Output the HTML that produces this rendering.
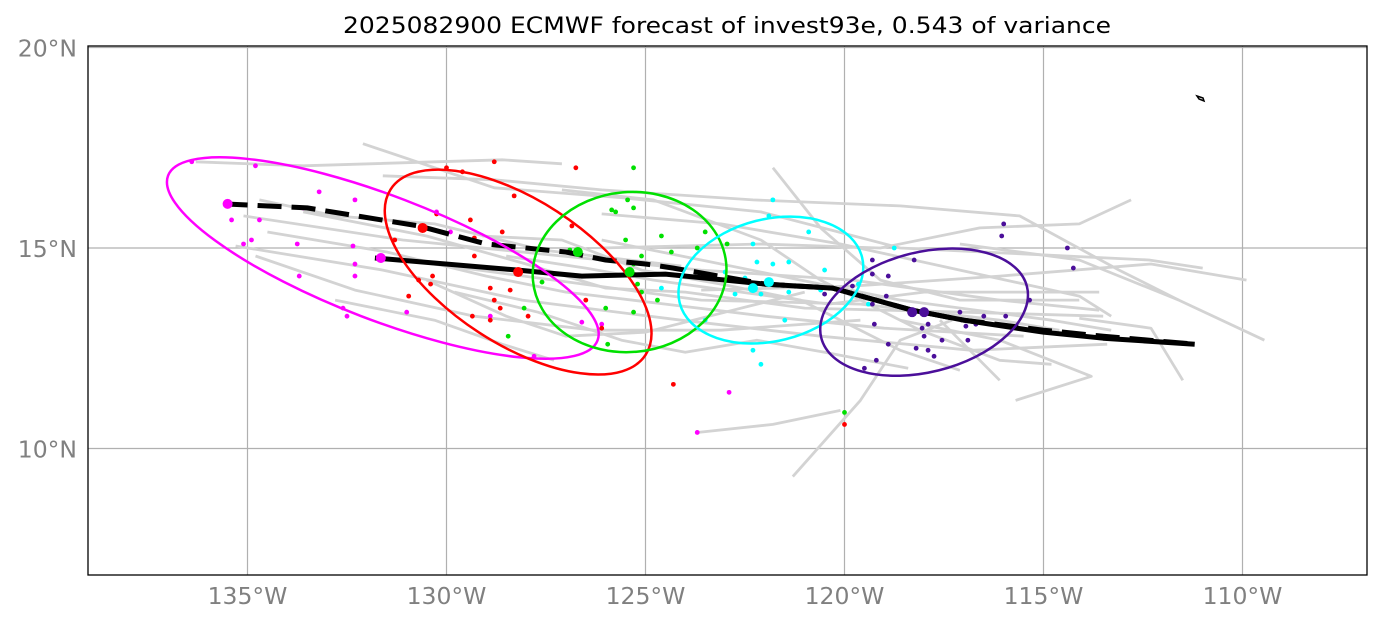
<!DOCTYPE html>
<html><head><meta charset="utf-8"><style>
body{margin:0;background:#fff;}
svg{display:block;font-family:"DejaVu Sans","Liberation Sans",sans-serif;}
</style></head><body>
<svg id="chart" width="1382" height="624" viewBox="0 0 1382 624">
<text x="727" y="33" text-anchor="middle" font-size="22" textLength="768" lengthAdjust="spacingAndGlyphs" fill="#000">2025082900 ECMWF forecast of invest93e, 0.543 of variance</text>
<defs><clipPath id="clip"><rect x="88" y="46" width="1279" height="529"/></clipPath></defs>
<g id="grid"></g>
<g id="tracks" clip-path="url(#clip)"></g>
<g id="marks" clip-path="url(#clip)"></g>
<rect x="88" y="46" width="1279" height="529" fill="none" stroke="#000" stroke-width="1.3"/>
<g id="ticks"></g>
</svg>
<script>
const lonTicks=[-135,-130,-125,-120,-115,-110];
const latTicks=[10,15,20];
const grayTracks=[
[[-132.1,17.6],[-128.8,16.5],[-125.55,16.25],[-122.1,15.9],[-118.6,15.0],[-112.35,14.7],[-111.0,14.5]],
[[-136.3,17.15],[-133.6,17.05],[-128.6,17.2],[-127.1,17.1]],
[[-135.1,15.8],[-131.1,15.2],[-127.1,14.8],[-123.6,14.45],[-119.8,14.2],[-116.1,13.7],[-113.6,13.45]],
[[-135.3,15.05],[-131.6,14.45],[-128.1,13.7],[-124.1,13.2],[-120.6,12.8],[-116.8,12.45],[-113.4,12.6]],
[[-131.6,16.8],[-128.8,16.7],[-126.1,16.45],[-122.3,16.2],[-118.6,16.05],[-115.6,15.8],[-113.1,14.45],[-111.6,13.7]],
[[-112.8,16.2],[-114.1,15.6],[-116.6,15.5],[-119.1,15.0],[-122.1,15.1],[-126.1,15.0]],
[[-109.45,12.7],[-111.6,13.7],[-114.1,14.7],[-117.1,15.1]],
[[-109.9,14.2],[-112.3,14.6],[-116.1,14.3],[-119.8,14.05],[-123.6,13.95]],
[[-121.3,9.3],[-119.6,11.2],[-118.6,12.7],[-117.3,13.2]],
[[-115.7,11.2],[-113.8,11.8],[-116.1,12.7],[-118.6,13.2]],
[[-111.5,11.7],[-112.3,13.0],[-114.1,13.25]],
[[-123.7,10.4],[-121.8,10.6],[-120.1,10.95]],
[[-134.7,16.2],[-132.8,15.8],[-130.3,15.6],[-127.6,14.95],[-124.1,14.55]],
[[-134.8,14.8],[-132.3,13.95],[-129.3,13.3],[-126.3,12.95],[-123.1,12.95],[-119.6,13.2]],
[[-132.8,13.7],[-130.3,13.2],[-128.6,12.6],[-127.3,12.2]],
[[-126.1,15.2],[-123.6,14.7],[-121.6,14.3],[-118.6,13.7],[-114.8,13.2],[-113.3,12.95]],
[[-121.8,17.0],[-120.6,15.5],[-119.1,14.2],[-117.1,13.7],[-114.1,13.7]],
[[-127.1,16.45],[-124.8,16.2],[-122.1,15.2],[-120.6,14.2],[-118.1,12.95],[-116.1,12.2],[-114.8,12.1]],
[[-131.1,14.7],[-127.3,14.2],[-123.6,13.7],[-119.6,13.6],[-116.1,13.2],[-114.6,12.95]],
[[-126.1,15.85],[-123.1,15.6],[-120.1,15.1],[-117.1,14.45],[-114.1,13.8],[-113.3,13.3]],
[[-116.1,11.7],[-116.6,12.2],[-117.6,13.2]],
[[-129.1,15.3],[-127.1,15.2],[-125.1,14.45],[-123.1,14.1],[-121.1,13.7],[-118.6,12.45],[-117.1,11.95]],
[[-133.6,15.9],[-130.5,15.3],[-128,14.6],[-126,14.0],[-124,13.9],[-121,13.5],[-117,13.4],[-113.5,13.3]],
[[-130.5,14.2],[-128.5,13.3],[-127,12.8],[-125,12.9],[-123,13.4],[-121,13.9]],
[[-134.5,15.4],[-131.5,14.9],[-129,14.3],[-127,13.9],[-124.5,13.6],[-122,13.3],[-119,13.0],[-115.5,12.8]],
[[-128.5,14.8],[-126.5,14.5],[-124.8,14.2],[-122.6,13.9],[-120.4,13.6],[-118,13.9],[-115.8,13.9],[-113.6,13.9]],
[[-129.8,13.9],[-127.7,13.4],[-125.6,12.7],[-124,12.4],[-122.2,12.7],[-120.5,12.4],[-118.4,12.0]]
];
const meanSolid=[[-131.8,14.75],[-128.2,14.45],[-126.6,14.3],[-124.5,14.35],[-122,14.1],[-120.3,14.0],[-118.3,13.45],[-117,13.2],[-115,12.9],[-113.5,12.75],[-111.2,12.6]];
const meanDashed=[[-135.6,16.1],[-133.5,16.0],[-130.7,15.55],[-129,15.1],[-127,14.9],[-126,14.7],[-125,14.6],[-124.3,14.5],[-122,14.1],[-120.3,14.0],[-118.3,13.45],[-117,13.2],[-115,12.95],[-113.5,12.8],[-111.2,12.6]];
const clusterColors=["#ff00ff","#ff0000","#00e000","#00ffff","#4b0f9a"];
const ellipseCenters=[[-131.6,14.75],[-128.2,14.4],[-125.4,14.4],[-121.85,14.2],[-118.0,13.4]];
const ellipseAxes=[[230,62],[152,72],[97,80],[94,61],[106,60]];
const ellipseAngles=[21,33,-5,-14,-14];
const bigDots=[
[[-135.5,16.1],[-131.65,14.75]],
[[-130.6,15.5],[-128.2,14.4]],
[[-126.7,14.9],[-125.4,14.4]],
[[-122.3,14.0],[-121.9,14.15]],
[[-118.3,13.4],[-118.0,13.4]]];
const smallDots=[
[[-136.4,17.15],[-134.8,17.05],[-135.4,15.7],[-134.7,15.7],[-135.1,15.1],[-134.9,15.2],[-133.75,15.1],[-133.6,16.0],[-133.2,16.4],[-132.3,16.2],[-132.35,15.05],[-132.3,14.6],[-132.3,14.3],[-132.6,13.5],[-132.5,13.3],[-133.7,14.3],[-131,13.4],[-127.8,12.3],[-123.7,10.4],[-122.9,11.4],[-126.1,13.1],[-126.6,13.15],[-130.25,15.9],[-129.9,15.4],[-128.9,13.3]],
[[-130.0,17.0],[-128.8,17.15],[-126.75,17.0],[-129.6,16.9],[-128.3,16.3],[-130.25,15.85],[-129.4,15.7],[-129.3,15.25],[-128.6,15.4],[-131.3,15.2],[-129.3,14.8],[-130.35,14.3],[-130.7,14.2],[-130.4,14.1],[-130.95,13.8],[-128.9,14.0],[-128.8,13.7],[-128.9,13.2],[-129.35,13.3],[-128.65,13.5],[-128.4,13.95],[-127.95,13.3],[-126.85,15.55],[-126.65,14.3],[-126.5,13.7],[-126.1,13.0],[-124.3,11.6],[-120,10.6]],
[[-125.3,17.0],[-125.85,15.95],[-125.75,15.9],[-125.45,16.2],[-125.3,16.0],[-125.5,15.2],[-124.6,15.3],[-123.5,15.4],[-123.7,15.0],[-124.35,14.9],[-125.1,14.8],[-125.3,14.6],[-125.45,14.4],[-125.2,14.1],[-125.1,13.9],[-124.7,13.7],[-125.3,13.4],[-126.0,13.5],[-125.95,12.6],[-128.45,12.8],[-128.05,13.5],[-127.6,14.15],[-126.9,14.95],[-120,10.9],[-122.95,15.1]],
[[-121.8,16.2],[-121.9,15.8],[-120.9,15.4],[-122.3,15.1],[-121.4,14.65],[-121.8,14.6],[-122.2,14.65],[-123.0,14.4],[-122.5,14.25],[-122.1,13.85],[-122.75,13.85],[-121.4,13.9],[-121.5,13.2],[-122.3,12.45],[-122.1,12.1],[-123.5,13.2],[-124.6,14.0],[-120.5,14.45],[-119.65,14.1],[-118.75,15.0],[-120.6,13.95],[-119.4,13.6]],
[[-116.0,15.6],[-116.05,15.3],[-114.4,15.0],[-114.25,14.5],[-118.25,14.7],[-119.3,14.7],[-119.3,14.35],[-118.9,14.3],[-118.95,13.8],[-119.6,13.8],[-119.3,13.6],[-119.25,13.1],[-119.2,12.2],[-119.5,12.0],[-118.9,12.6],[-118.2,12.5],[-118.05,13.0],[-118.0,12.8],[-117.9,13.1],[-117.9,12.45],[-117.75,12.3],[-117.55,12.7],[-117.1,13.4],[-116.95,13.05],[-116.9,12.7],[-116.7,13.1],[-116.5,13.3],[-115.95,13.3],[-115.35,13.7],[-120.5,13.85],[-119.8,14.05]]
];
const NS="http://www.w3.org/2000/svg";
function X(lon){return 844.5+(lon+120)*39.8;}
function Y(lat){return 248-(lat-15)*40.1;}
function mk(tag,attrs,parent){const e=document.createElementNS(NS,tag);for(const k in attrs)e.setAttribute(k,attrs[k]);parent.appendChild(e);return e;}
const grid=document.getElementById('grid'),ticks=document.getElementById('ticks');
lonTicks.forEach(l=>{
 const g=mk('line',{x1:X(l),x2:X(l),y1:46,y2:575,stroke:'#b0b0b0','stroke-width':1.2},grid);
 
 
 const t=mk('text',{x:X(l),y:604,'text-anchor':'middle','font-size':23.5,fill:'#808080'},ticks);
 t.textContent=(-l)+'°W';
 
 
});
latTicks.forEach(l=>{
 const g=mk('line',{x1:88,x2:1367,y1:Y(l),y2:Y(l),stroke:'#b0b0b0','stroke-width':1.2},grid);
 
 
 const t=mk('text',{x:77,y:Y(l)+9,'text-anchor':'end','font-size':23.5,fill:'#808080'},ticks);
 t.textContent=l+'°N';
 
 
});
function pts(a){return a.map(p=>X(p[0]).toFixed(1)+','+Y(p[1]).toFixed(1)).join(' ');}
const tr=document.getElementById('tracks');
grayTracks.forEach(t=>{
 const p=mk('polyline',{points:pts(t),fill:'none',stroke:'#d3d3d3','stroke-width':2.8,'stroke-linejoin':'round'},tr);
 
 
});
const mg=document.getElementById('marks');
smallDots.forEach((set,i)=>set.forEach(d=>{
 const c=mk('circle',{cx:X(d[0]),cy:Y(d[1]),r:2.4,fill:clusterColors[i]},mg);
 
 
}));
const ms=mk('polyline',{points:pts(meanSolid),fill:'none',stroke:'#000','stroke-width':5,'stroke-linejoin':'round'},mg);


const md=mk('polyline',{points:pts(meanDashed),fill:'none',stroke:'#000','stroke-width':5,'stroke-dasharray':'24,10','stroke-linejoin':'round'},mg);


ellipseCenters.forEach((c,i)=>{
 const cx=X(c[0]),cy=Y(c[1]);
 const e=mk('ellipse',{cx:cx,cy:cy,rx:ellipseAxes[i][0],ry:ellipseAxes[i][1],fill:'none',stroke:clusterColors[i],'stroke-width':2.5,transform:`rotate(${ellipseAngles[i]} ${cx} ${cy})`},mg);
 
 
});
bigDots.forEach((set,i)=>set.forEach(d=>{
 const c=mk('circle',{cx:X(d[0]),cy:Y(d[1]),r:5,fill:clusterColors[i]},mg);
 
 
}));
const isl=mk('path',{d:'M1197,96 L1203,98 L1204,101 L1199,99 Z',fill:'none',stroke:'#000','stroke-width':1.5},mg);


</script>
</body></html>
